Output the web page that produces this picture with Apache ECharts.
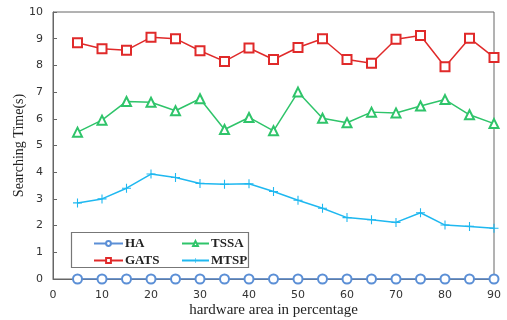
<!DOCTYPE html>
<html>
<head>
<meta charset="utf-8">
<script src="https://cdn.jsdelivr.net/npm/echarts@6/dist/echarts.min.js"></script>
<style>html,body{margin:0;padding:0;background:#fff;}#c{width:507px;height:320px;}</style>
</head>
<body>
<div id="c"></div>
<script>
var xValues = [5,10,15,20,25,30,35,40,45,50,55,60,65,70,75,80,85,90];
var haValues = [0,0,0,0,0,0,0,0,0,0,0,0,0,0,0,0,0,0];
var gatsValues = [8.85,8.62,8.57,9.05,9.0,8.55,8.15,8.65,8.22,8.67,9.0,8.22,8.08,8.98,9.12,7.95,9.02,8.3];
var tssaValues = [5.5,5.95,6.65,6.62,6.3,6.75,5.6,6.05,5.55,7.0,6.02,5.85,6.25,6.22,6.48,6.72,6.15,5.82];
var mtspValues = [2.85,3.0,3.4,3.93,3.8,3.58,3.55,3.57,3.28,2.95,2.65,2.3,2.22,2.12,2.48,2.02,1.97,1.9];
var seriesNames = ['HA','TSSA','GATS','MTSP'];

function pairs(v){ return xValues.map(function(x,i){ return [x, v[i]]; }); }

var plusPath = 'path://M4.4,0h1.2v10h-1.2z M0,4.4h10v1.2h-10z';
var chart = echarts.init(document.getElementById('c'));
var legendText = {fontFamily:'Liberation Serif', fontSize:13, fontWeight:'bold', color:'#222', padding:[0,0,0,-3]};
chart.setOption({
  animation:false,
  grid:{left:53, right:13, top:12, bottom:41, outerBoundsMode:'none', containLabel:false, show:true, borderColor:'#666', borderWidth:1},
  xAxis:{type:'value', min:0, max:90, interval:10,
    axisLine:{show:true, onZero:false, lineStyle:{color:'#666'}},
    axisTick:{show:false},
    splitLine:{show:false},
    axisLabel:{fontFamily:'DejaVu Sans', fontSize:11, color:'#333', margin:11},
    name:'hardware area in percentage', nameLocation:'middle', nameGap:24, nameMoveOverlap:false,
    nameTextStyle:{fontFamily:'Liberation Serif', fontSize:15, color:'#222'}},
  yAxis:{type:'value', min:0, max:10, interval:1,
    axisLine:{show:true, lineStyle:{color:'#666'}},
    axisTick:{show:true, inside:true, length:4, lineStyle:{color:'#666'}},
    splitLine:{show:false},
    axisLabel:{fontFamily:'DejaVu Sans', fontSize:11, color:'#333', margin:10},
    name:'Searching Time(s)', nameLocation:'middle', nameGap:27, nameMoveOverlap:false,
    nameTextStyle:{fontFamily:'Liberation Serif', fontSize:14, color:'#222'}},
  legend:[
    {data:['HA','GATS'], orient:'vertical', left:88, top:232, itemWidth:29, itemHeight:6, itemGap:4, textStyle:legendText},
    {data:['TSSA','MTSP'], orient:'vertical', left:176, top:232, itemWidth:27, itemHeight:6, itemGap:4, textStyle:legendText}
  ],
  graphic:[{type:'rect', shape:{x:71.5, y:232.5, width:177, height:35}, style:{fill:'#fff', stroke:'#777', lineWidth:1.2}, z:-1, zlevel:0}],
  series:[
    {name:'HA', type:'line', data:pairs(haValues), symbol:'emptyCircle', symbolSize:9,
      lineStyle:{color:'#5b8fd6', width:1.5}, itemStyle:{color:'#5b8fd6', borderWidth:1.5}, z:5},
    {name:'TSSA', type:'line', data:pairs(tssaValues), symbol:'emptyTriangle', symbolSize:9,
      lineStyle:{color:'#2fc46a', width:1.5}, itemStyle:{color:'#2fc46a', borderWidth:1.5}},
    {name:'GATS', type:'line', data:pairs(gatsValues), symbol:'emptyRect', symbolSize:9,
      lineStyle:{color:'#e02a2a', width:1.5}, itemStyle:{color:'#e02a2a', borderWidth:1.5}},
    {name:'MTSP', type:'line', data:pairs(mtspValues), symbol:plusPath, symbolSize:9,
      lineStyle:{color:'#1fb8f0', width:1.5}, itemStyle:{color:'#1fb8f0'}}
  ]
});
</script>
</body>
</html>
